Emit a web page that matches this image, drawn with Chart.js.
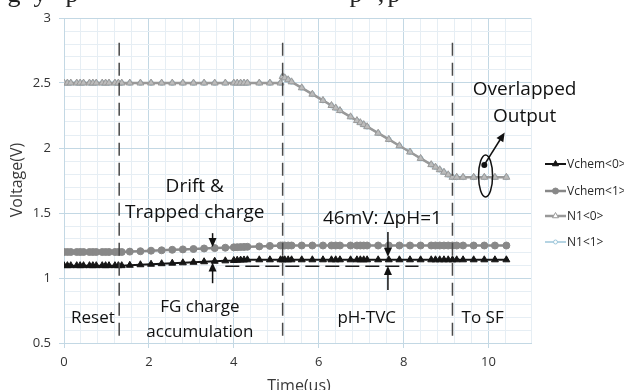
<!DOCTYPE html>
<html>
<head>
<meta charset="utf-8">
<script src="https://cdn.jsdelivr.net/npm/chart.js@4.4.0/dist/chart.umd.min.js"></script>
<style>
  body { margin: 0; background: #fff; }
  #chart { display: block; }
</style>
</head>
<body>
<canvas id="chart" width="624" height="390"></canvas>
<script>
// ====== DATA ======
const seriesNames = ["Vchem<0>", "Vchem<1>", "N1<0>", "N1<1>"];

const timeUs = [
  0, 0.08, 0.16, 0.3, 0.38, 0.46, 0.6, 0.68, 0.76, 0.9, 0.98, 1.06, 1.2, 1.28, 1.36,
  1.55, 1.8, 2.05, 2.3, 2.55, 2.8, 3.05, 3.3, 3.55, 3.8, 4.0, 4.08, 4.16, 4.24, 4.32,
  4.6, 4.85, 5.1, 5.15, 5.2, 5.28, 5.36, 5.6, 5.85, 6.1, 6.3, 6.4, 6.5, 6.75, 6.9,
  6.98, 7.06, 7.14, 7.4, 7.65, 7.9, 8.15, 8.4, 8.65, 8.75, 8.85, 8.95, 9.05, 9.15, 9.25,
  9.4, 9.65, 9.9, 10.15, 10.42
];

const vchem0 = [
  1.095, 1.095, 1.095, 1.095, 1.095, 1.095, 1.095, 1.095, 1.095, 1.095, 1.095, 1.095, 1.095, 1.095, 1.095,
  1.098, 1.102, 1.106, 1.110, 1.114, 1.117, 1.121, 1.125, 1.129, 1.132, 1.135, 1.137, 1.138, 1.139, 1.140,
  1.14, 1.14, 1.14, 1.14, 1.14, 1.14, 1.14, 1.14, 1.14, 1.14, 1.14, 1.14, 1.14, 1.14, 1.14,
  1.14, 1.14, 1.14, 1.14, 1.14, 1.14, 1.14, 1.14, 1.14, 1.14, 1.14, 1.14, 1.14, 1.14, 1.14,
  1.14, 1.14, 1.14, 1.14, 1.14
];

const vchem1 = [
  1.2, 1.2, 1.2, 1.2, 1.2, 1.2, 1.2, 1.2, 1.2, 1.2, 1.2, 1.2, 1.2, 1.2, 1.2,
  1.203, 1.206, 1.21, 1.213, 1.217, 1.22, 1.223, 1.227, 1.23, 1.233, 1.236, 1.237, 1.238, 1.239, 1.24,
  1.243, 1.247, 1.25, 1.25, 1.25, 1.25, 1.25, 1.25, 1.25, 1.25, 1.25, 1.25, 1.25, 1.25, 1.25,
  1.25, 1.25, 1.25, 1.25, 1.25, 1.25, 1.25, 1.25, 1.25, 1.25, 1.25, 1.25, 1.25, 1.25, 1.25,
  1.25, 1.25, 1.25, 1.25, 1.25
];

const n1_0 = [
  2.5, 2.5, 2.5, 2.5, 2.5, 2.5, 2.5, 2.5, 2.5, 2.5, 2.5, 2.5, 2.5, 2.5, 2.5,
  2.5, 2.5, 2.5, 2.5, 2.5, 2.5, 2.5, 2.5, 2.5, 2.5, 2.5, 2.5, 2.5, 2.5, 2.5,
  2.5, 2.5, 2.5, 2.55, 2.54, 2.525, 2.509, 2.463, 2.414, 2.366, 2.327, 2.308, 2.288, 2.24, 2.211,
  2.195, 2.18, 2.164, 2.114, 2.066, 2.017, 1.969, 1.92, 1.872, 1.853, 1.833, 1.814, 1.794, 1.775, 1.775,
  1.775, 1.775, 1.775, 1.775, 1.775
];

const n1_1 = [
  2.5, 2.5, 2.5, 2.5, 2.5, 2.5, 2.5, 2.5, 2.5, 2.5, 2.5, 2.5, 2.5, 2.5, 2.5,
  2.5, 2.5, 2.5, 2.5, 2.5, 2.5, 2.5, 2.5, 2.5, 2.5, 2.5, 2.5, 2.5, 2.5, 2.5,
  2.5, 2.5, 2.5, 2.55, 2.54, 2.525, 2.509, 2.463, 2.414, 2.366, 2.327, 2.308, 2.288, 2.24, 2.211,
  2.195, 2.18, 2.164, 2.114, 2.066, 2.017, 1.969, 1.92, 1.872, 1.853, 1.833, 1.814, 1.794, 1.775, 1.775,
  1.775, 1.775, 1.775, 1.775, 1.775
];

const xTicks = [0, 2, 4, 6, 8, 10];
const yTicks = [0.5, 1, 1.5, 2, 2.5, 3];
const phaseBounds = [1.3, 5.15, 9.15];

// ====== STYLE ======
const FONT = "'Open Sans', sans-serif";
const seriesStyle = [
  { color: "#151515", fill: "#151515", point: "triangle", radius: 4,   width: 2 },
  { color: "#888888", fill: "#888888", point: "circle",   radius: 3.5, width: 2.5 },
  { color: "#999999", fill: "#bcbcbc", point: "triangle", radius: 4,   width: 2.5 },
  { color: "#9cc6da", fill: "#ffffff", point: "circle",   radius: 2.5, width: 1.5 }
];
const seriesValues = [vchem0, vchem1, n1_0, n1_1];

const isTick = (v, list) => list.some(t => Math.abs(t - v) < 1e-6);

function arrow(ctx, x1, y1, x2, y2) {
  const ang = Math.atan2(y2 - y1, x2 - x1);
  const len = 9, half = 4;
  ctx.beginPath();
  ctx.moveTo(x1, y1);
  ctx.lineTo(x2 - Math.cos(ang) * len * 0.8, y2 - Math.sin(ang) * len * 0.8);
  ctx.stroke();
  ctx.beginPath();
  ctx.moveTo(x2, y2);
  ctx.lineTo(x2 - Math.cos(ang) * len - Math.sin(ang) * half, y2 - Math.sin(ang) * len + Math.cos(ang) * half);
  ctx.lineTo(x2 - Math.cos(ang) * len + Math.sin(ang) * half, y2 - Math.sin(ang) * len - Math.cos(ang) * half);
  ctx.closePath();
  ctx.fill();
}

// ====== ANNOTATIONS / LEGEND / TITLES ======
const extras = {
  id: "extras",
  afterDatasetsDraw(chart) {
    const { ctx, scales: { x, y } } = chart;
    const px = v => x.getPixelForValue(v);
    const py = v => y.getPixelForValue(v);
    ctx.save();

    // phase boundaries
    ctx.strokeStyle = "#4a4a4a";
    ctx.lineWidth = 1.5;
    ctx.setLineDash([13, 7]);
    phaseBounds.forEach(b => {
      ctx.beginPath();
      ctx.moveTo(px(b), py(2.81));
      ctx.lineTo(px(b), py(0.54));
      ctx.stroke();
    });

    // initial level reference
    ctx.strokeStyle = "#1a1a1a";
    ctx.setLineDash([14, 6]);
    ctx.beginPath();
    ctx.moveTo(px(3.8), py(1.09));
    ctx.lineTo(px(8.35), py(1.09));
    ctx.stroke();
    ctx.setLineDash([]);

    // arrows
    ctx.strokeStyle = "#111";
    ctx.fillStyle = "#111";
    ctx.lineWidth = 1.5;
    arrow(ctx, px(3.5), py(1.345), px(3.5), py(1.238));
    arrow(ctx, px(3.5), py(0.96), px(3.5), py(1.12));
    arrow(ctx, px(7.63), py(1.354), px(7.63), py(1.163));
    arrow(ctx, px(7.63), py(0.907), px(7.63), py(1.092));

    // overlapped output marker
    ctx.beginPath();
    ctx.ellipse(px(9.93), py(1.785), 7, 21, 0, 0, Math.PI * 2);
    ctx.stroke();
    ctx.beginPath();
    ctx.arc(px(9.9), py(1.87), 3, 0, Math.PI * 2);
    ctx.fill();
    arrow(ctx, px(9.9), py(1.87), px(10.38), py(2.12));

    // text labels
    ctx.fillStyle = "#111";
    ctx.textAlign = "center";
    ctx.textBaseline = "middle";
    const label = (t, vx, vy, size) => {
      ctx.font = size + "px " + FONT;
      ctx.fillText(t, px(vx), py(vy));
    };
    label("Drift &", 3.08, 1.70, 19);
    label("Trapped charge", 3.08, 1.50, 19);
    label("46mV: \u0394pH=1", 7.5, 1.454, 19);
    label("Overlapped", 10.85, 2.446, 19);
    label("Output", 10.85, 2.238, 19);
    label("Reset", 0.68, 0.69, 17);
    label("FG charge", 3.2, 0.777, 17);
    label("accumulation", 3.2, 0.585, 17);
    label("pH-TVC", 7.13, 0.69, 17);
    label("To SF", 9.86, 0.69, 17);

    // legend
    const legendY = [164, 191, 216, 242];
    ctx.textAlign = "left";
    ctx.font = "12px " + FONT;
    seriesNames.forEach((name, i) => {
      const s = seriesStyle[i];
      const ly = legendY[i];
      ctx.strokeStyle = s.color;
      ctx.lineWidth = s.width;
      ctx.beginPath();
      ctx.moveTo(545, ly);
      ctx.lineTo(566, ly);
      ctx.stroke();
      ctx.fillStyle = i === 2 ? "#ffffff" : s.fill;
      ctx.lineWidth = 1;
      Chart.helpers.drawPoint(ctx, { pointStyle: s.point, radius: s.radius - 0.5, rotation: 0, borderWidth: 1 }, 555.5, ly);
      ctx.fillStyle = "#2a2a2a";
      ctx.fillText(name, 567, ly + 1);
    });

    // axis titles
    ctx.fillStyle = "#3a3a3a";
    ctx.font = "16px " + FONT;
    ctx.textAlign = "center";
    ctx.fillText("Time(us)", 299, 386);
    ctx.save();
    ctx.translate(17, 180);
    ctx.rotate(-Math.PI / 2);
    ctx.fillText("Voltage(V)", 0, 0);
    ctx.restore();

    // cropped line of the page text above the figure
    ctx.fillStyle = "#222";
    ctx.font = "26px 'Liberation Serif', serif";
    ctx.textBaseline = "alphabetic";
    [["g", 14], ["y", 40], ["p", 72], ["p", 356], [",", 381], ["p", 394]].forEach(([c, cx]) => {
      ctx.fillText(c, cx, 2);
    });

    ctx.restore();
  }
};

// ====== CHART ======
const datasets = seriesNames.map((name, i) => ({
  label: name,
  data: timeUs.map((t, j) => ({ x: t, y: seriesValues[i][j] })),
  borderColor: seriesStyle[i].color,
  backgroundColor: seriesStyle[i].fill,
  borderWidth: seriesStyle[i].width,
  pointStyle: seriesStyle[i].point,
  pointRadius: seriesStyle[i].radius,
  pointBackgroundColor: seriesStyle[i].fill,
  pointBorderColor: seriesStyle[i].color,
  pointBorderWidth: 1,
  tension: 0,
  fill: false
}));

const MAJOR = "#c3d8e4";
const MINOR = "#e6eef4";

new Chart(document.getElementById("chart").getContext("2d"), {
  type: "line",
  data: { datasets },
  options: {
    responsive: false,
    animation: false,
    layout: { padding: { left: 0, right: 93, top: 18, bottom: 0 } },
    plugins: { legend: { display: false }, tooltip: { enabled: false } },
    scales: {
      x: {
        type: "linear",
        min: 0,
        max: 11,
        afterFit: s => { s.height = 47; },
        border: { color: MAJOR, width: 1 },
        grid: {
          color: c => isTick(c.tick.value, xTicks) ? MAJOR : MINOR,
          tickColor: c => isTick(c.tick.value, xTicks) ? MAJOR : "rgba(0,0,0,0)",
          tickLength: 5
        },
        ticks: {
          stepSize: 0.4,
          autoSkip: false,
          maxRotation: 0,
          padding: 6,
          color: "#333",
          font: { family: FONT, size: 13 },
          callback: v => isTick(v, xTicks) ? String(v) : ""
        }
      },
      y: {
        min: 0.5,
        max: 3,
        afterFit: s => { s.width = 64; },
        border: { color: MAJOR, width: 1 },
        grid: {
          color: c => isTick(c.tick.value, yTicks) ? MAJOR : MINOR,
          tickColor: c => isTick(c.tick.value, yTicks) ? MAJOR : "rgba(0,0,0,0)",
          tickLength: 5
        },
        ticks: {
          stepSize: 0.1,
          autoSkip: false,
          padding: 8,
          color: "#333",
          font: { family: FONT, size: 13 },
          callback: v => isTick(v, yTicks) ? String(Math.round(v * 10) / 10) : ""
        }
      }
    }
  },
  plugins: [extras]
});
</script>
</body>
</html>
